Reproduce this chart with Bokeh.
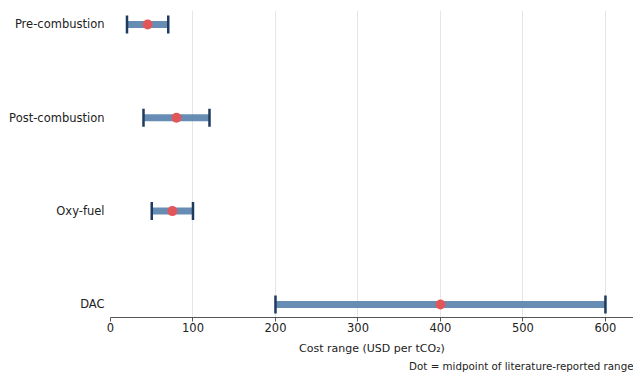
from bokeh.plotting import figure
from bokeh.models import Range1d, FixedTicker, Title
from bokeh.embed import file_html
from bokeh.resources import INLINE

categories = ["Pre-combustion", "Post-combustion", "Oxy-fuel", "DAC"]
low = [20, 40, 50, 200]
high = [70, 120, 100, 600]
mid = [45, 80, 75, 400]
x_ticks = [0, 100, 200, 300, 400, 500, 600]

n = len(categories)
ypos = [n - 1 - i for i in range(n)]

FONT = "DejaVu Sans"

p = figure(width=633, height=374, output_backend="svg", toolbar_location=None,
           x_range=Range1d(0, 634), y_range=Range1d(-0.14, n - 1 + 0.15),
           min_border_left=110, min_border_right=0, min_border_top=10, min_border_bottom=57)
p.outline_line_color = None
p.background_fill_color = "white"

# bars
p.segment(x0=low, y0=ypos, x1=high, y1=ypos, line_width=7, line_color="#4e79a7", line_alpha=0.85)
# caps
p.scatter(x=low, y=ypos, marker="dash", angle=1.5708, size=18, line_width=2.5, line_color="#1f3a5f")
p.scatter(x=high, y=ypos, marker="dash", angle=1.5708, size=18, line_width=2.5, line_color="#1f3a5f")
# midpoints
p.scatter(x=mid, y=ypos, marker="circle", size=10, fill_color="#e15759", line_color=None)

# axes
p.xaxis.ticker = FixedTicker(ticks=x_ticks)
p.xaxis.minor_tick_line_color = None
p.xaxis.major_tick_out = 4
p.xaxis.major_tick_in = 0
p.xaxis.axis_line_color = "#555555"
p.xaxis.axis_line_width = 1.2
p.xaxis.major_tick_line_color = "#555555"
p.xaxis.major_label_text_font = FONT
p.xaxis.major_label_text_font_size = "11.5px"
p.xaxis.major_label_text_color = "#222222"
p.xaxis.major_label_standoff = 1
p.xaxis.axis_label = "Cost range (USD per tCO\u2082)"
p.xaxis.axis_label_text_font = FONT
p.xaxis.axis_label_text_font_size = "11px"
p.xaxis.axis_label_text_font_style = "normal"
p.xaxis.axis_label_text_color = "#222222"
p.xaxis.axis_label_standoff = 7

p.yaxis.ticker = FixedTicker(ticks=ypos)
p.yaxis.major_label_overrides = {y: c for y, c in zip(ypos, categories)}
p.yaxis.axis_line_color = None
p.yaxis.major_tick_line_color = None
p.yaxis.minor_tick_line_color = None
p.yaxis.major_label_text_font = FONT
p.yaxis.major_label_text_font_size = "11.5px"
p.yaxis.major_label_text_color = "#222222"
p.yaxis.major_label_standoff = 0

p.ygrid.grid_line_color = None
p.xgrid.grid_line_color = "#e6e6e6"
p.xgrid.grid_line_width = 1

note = Title(text="Dot = midpoint of literature-reported range", align="right", offset=0,
             text_font=FONT, text_font_size="10.3px", text_font_style="normal",
             text_color="#222222", standoff=1)
p.add_layout(note, "below")

open("out.html", "w").write(file_html(p, INLINE))
